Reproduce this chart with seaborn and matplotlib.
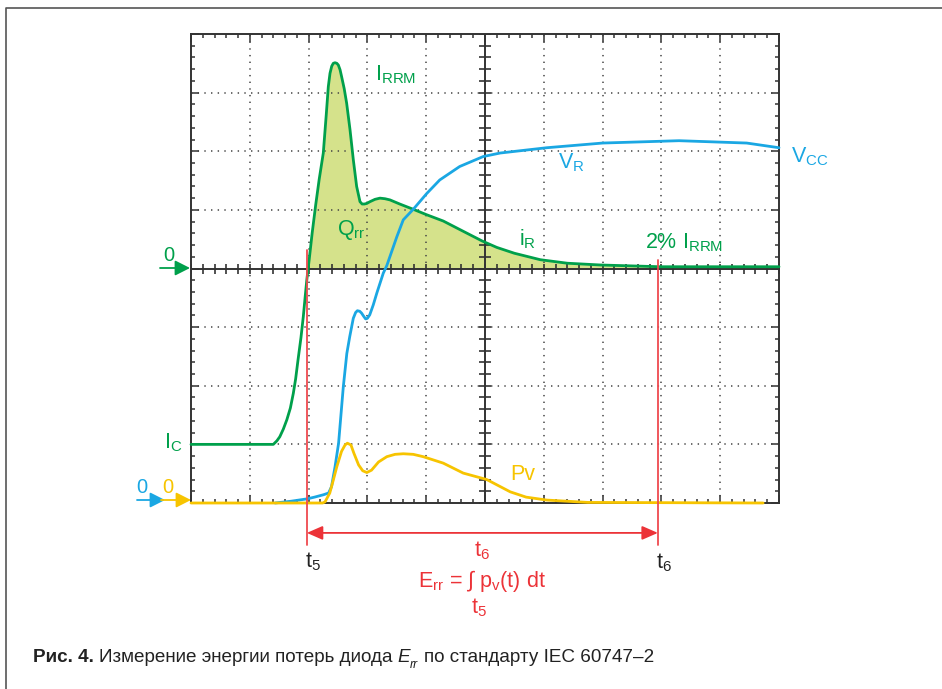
import numpy as np
import pandas as pd
import matplotlib
matplotlib.use("Agg")
import matplotlib.pyplot as plt
from matplotlib.lines import Line2D
from matplotlib.patches import FancyArrowPatch
from matplotlib import font_manager as fm
import seaborn as sns

# ---------------- data (oscilloscope divisions) ----------------
green_x = [0.0, 1.40, 1.46, 1.51, 1.57, 1.63, 1.69, 1.74, 1.78, 1.82, 1.87, 1.91, 1.94,
           1.97, 2.01, 2.06, 2.12, 2.18, 2.25, 2.30, 2.335, 2.364, 2.393, 2.42, 2.449,
           2.48, 2.506, 2.535, 2.562, 2.605, 2.647, 2.704, 2.761, 2.817, 2.874, 2.91,
           2.948, 2.99, 3.044, 3.13, 3.214, 3.30, 3.384, 3.55, 3.78, 4.00, 4.29, 4.60,
           4.95, 5.20, 5.50, 5.94, 6.40, 6.96, 7.98, 10.0]
green_y = [1.0, 1.0, 1.06, 1.13, 1.26, 1.42, 1.62, 1.87, 2.12, 2.44, 2.82, 3.18, 3.50,
           3.81, 4.15, 4.60, 5.08, 5.52, 5.97, 6.62, 7.10, 7.33, 7.45, 7.50, 7.51,
           7.50, 7.47, 7.39, 7.27, 7.07, 6.82, 6.37, 5.85, 5.40, 5.14, 5.10,
           5.10, 5.11, 5.14, 5.18, 5.20, 5.19, 5.17, 5.10, 5.01, 4.92, 4.81, 4.65,
           4.47, 4.36, 4.26, 4.15, 4.09, 4.06, 4.03, 4.03]

blue_x = [1.43, 1.70, 1.97, 2.10, 2.25, 2.34, 2.39, 2.45, 2.51, 2.55, 2.59, 2.65, 2.70,
          2.76, 2.80, 2.83, 2.87, 2.90, 2.94, 2.97, 3.00, 3.04, 3.10, 3.16, 3.27, 3.33,
          3.50, 3.61, 3.78, 4.01, 4.23, 4.57, 4.97, 5.26, 6.05, 7.00, 8.30, 9.45, 10.0]
blue_y = [0.0, 0.03, 0.07, 0.10, 0.14, 0.17, 0.28, 0.62, 1.02, 1.50, 1.98, 2.55, 2.84,
          3.15, 3.25, 3.28, 3.27, 3.24, 3.18, 3.14, 3.15, 3.21, 3.38, 3.58, 3.92, 4.05,
          4.54, 4.83, 5.01, 5.28, 5.51, 5.74, 5.91, 5.97, 6.06, 6.14, 6.18, 6.14, 6.06]

yellow_x = [0.0, 2.24, 2.28, 2.36, 2.42, 2.48, 2.56, 2.62, 2.66, 2.72, 2.77, 2.85, 2.92,
            2.99, 3.07, 3.19, 3.33, 3.47, 3.61, 3.78, 3.95, 4.29, 4.63, 5.03, 5.43, 5.70,
            6.05, 6.75, 9.73]
yellow_y = [0.0, 0.0, 0.02, 0.17, 0.39, 0.62, 0.88, 0.99, 1.02, 0.99, 0.85, 0.65, 0.55,
            0.52, 0.56, 0.70, 0.79, 0.83, 0.84, 0.83, 0.79, 0.68, 0.51, 0.40, 0.19, 0.10,
            0.05, 0.01, 0.0]

t5 = 1.97
t6 = 7.94

# ---------------- style ----------------
sns.set_theme(style="white")
plt.rcParams["font.family"] = ["Liberation Sans", "DejaVu Sans"]
plt.rcParams["mathtext.fontset"] = "custom"
plt.rcParams["mathtext.rm"] = "Liberation Sans"
plt.rcParams["mathtext.it"] = "Liberation Sans:italic"
plt.rcParams["mathtext.bf"] = "Liberation Sans:bold"
plt.rcParams["lines.scale_dashes"] = False

GREEN = "#00a04b"
BLUE = "#1aa7e3"
YEL = "#f7c400"
RED = "#ec3338"
REDLINE = "#ef4a4f"
FILL = "#d5e28b"
INK = "#333333"

W, H = 942, 689
fig = plt.figure(figsize=(W / 100, H / 100), dpi=100, facecolor="white")

# outer frame (only top and left visible)
fig.add_artist(Line2D([6 / W, 6 / W, 1.0], [0.0, 1 - 8 / H, 1 - 8 / H],
                      transform=fig.transFigure, color="#555555", lw=1.2))

L, T, R, B = 191, 34, 779, 503
ax = fig.add_axes([L / W, 1 - B / H, (R - L) / W, (B - T) / H])
ax.set_xlim(0, 10)
ax.set_ylim(0, 8)
ax.set_facecolor("white")

gx = np.array(green_x)
gy = np.array(green_y)
ax.fill_between(gx, 4, gy, where=gy >= 4, interpolate=True, color=FILL, lw=0, zorder=1)

# dotted grid
dot = (0, (1.0, 3.8))
for v in range(1, 10):
    if v != 5:
        ax.axvline(v, color="#444444", lw=1.1, ls=dot, zorder=2)
for h in range(1, 8):
    if h != 4:
        ax.axhline(h, color="#444444", lw=1.1, ls=dot, zorder=2)
ax.axvline(5, color=INK, lw=1.4, zorder=2)
ax.axhline(4, color=INK, lw=1.4, zorder=2)
mx = np.arange(0, 10.001, 0.2)
ax.plot(mx, np.full_like(mx, 4.0), ls="none", marker="|", ms=6.5, mew=1.2, color=INK, zorder=2)
my = np.arange(0, 8.001, 0.2)
ax.plot(np.full_like(my, 5.0), my, ls="none", marker="_", ms=8, mew=1.2, color=INK, zorder=2)

ax.set_xticks(range(0, 11))
ax.set_yticks(range(0, 9))
ax.set_xticks(np.arange(0, 10.001, 0.2), minor=True)
ax.set_yticks(np.arange(0, 8.001, 0.2), minor=True)
ax.tick_params(which="both", direction="in", top=True, right=True, bottom=True, left=True,
               labelbottom=False, labelleft=False, color=INK, width=1.1)
ax.tick_params(which="major", length=5.5)
ax.tick_params(which="minor", length=2.8)
for s in ax.spines.values():
    s.set_color(INK)
    s.set_linewidth(1.4)

# curves
sns.lineplot(x=green_x, y=green_y, ax=ax, color=GREEN, lw=2.0, estimator=None, sort=False,
             zorder=4, clip_on=False)
sns.lineplot(x=blue_x, y=blue_y, ax=ax, color=BLUE, lw=2.0, estimator=None, sort=False,
             zorder=4, clip_on=False)
sns.lineplot(x=yellow_x, y=yellow_y, ax=ax, color=YEL, lw=2.0, estimator=None, sort=False,
             zorder=5, clip_on=False)
for ln in ax.get_lines()[-3:]:
    ln.set_solid_joinstyle("round")

# t5 / t6 markers
ax.plot([t5, t5], [4.32, -0.72], color=REDLINE, lw=1.3, clip_on=False, zorder=6)
ax.plot([t6, t6], [4.15, -0.72], color=REDLINE, lw=1.3, clip_on=False, zorder=6)
arr = FancyArrowPatch((t5, -0.51), (t6, -0.51), arrowstyle="<|-|>,head_length=0.8,head_width=0.35",
                      mutation_scale=12, color=RED, lw=1.3, shrinkA=0, shrinkB=0, zorder=6)
ax.add_patch(arr)
arr.set_clip_on(False)


def fx(x):
    return x / W


def fy(y):
    return 1 - y / H


def txt(x, y, s, color, size=15.5, **kw):
    return fig.text(fx(x), fy(y), s, color=color, fontsize=size, ha="left", va="baseline", **kw)


def farrow(x0, x1, y, color):
    a = FancyArrowPatch((fx(x0), fy(y)), (fx(x1), fy(y)), transform=fig.transFigure,
                        arrowstyle="-|>,head_length=0.75,head_width=0.38", mutation_scale=12,
                        color=color, lw=1.3, shrinkA=0, shrinkB=0)
    fig.add_artist(a)


txt(375, 80, r"I$_{\mathrm{RRM}}$", GREEN)
txt(337, 235, r"Q$_{\mathrm{rr}}$", GREEN)
txt(558, 168, r"V$_{\mathrm{R}}$", BLUE)
txt(791, 162, r"V$_{\mathrm{CC}}$", BLUE)
txt(519, 245, r"i$_{\mathrm{R}}$", GREEN)
txt(645, 248, r"2% I$_{\mathrm{RRM}}$", GREEN)
txt(163, 261, "0", GREEN, 14.5)
txt(164, 448, r"I$_{\mathrm{C}}$", GREEN)
txt(136, 493, "0", BLUE, 14.5)
txt(162, 493, "0", YEL, 14.5)
txt(510, 480, "Pv", YEL)
txt(305, 567, r"t$_{\mathrm{5}}$", "#222222")
txt(656, 568, r"t$_{\mathrm{6}}$", "#222222")
txt(474, 556, r"t$_{\mathrm{6}}$", RED)
txt(418, 587, r"E$_{\mathrm{rr}}$ = ∫ p$_{\mathrm{v}}$(t) dt", RED)
txt(471, 613, r"t$_{\mathrm{5}}$", RED)

farrow(160, 190, 268, GREEN)
farrow(137, 165, 500, BLUE)
farrow(161, 191, 500, YEL)

# caption
names = {f.name for f in fm.fontManager.ttflist}
cap_family = "Liberation Sans Narrow" if "Liberation Sans Narrow" in names else "Liberation Sans"
renderer = fig.canvas.get_renderer()


def caption(size, x0=33, y0=662):
    arts = []
    x = x0
    pt2px = 100 / 72
    sp = 0.27 * size * pt2px
    pieces = [
        ("Рис. 4.", dict(weight="bold"), 0, 1.0),
        (None, None, 0, 1.0),
        ("Измерение энергии потерь диода", {}, 0, 1.0),
        (None, None, 0, 1.0),
        ("E", dict(style="italic"), 0, 1.0),
        ("rr", dict(style="italic"), 0.3, 0.65),
        (None, None, 0, 1.0),
        ("по стандарту IEC 60747–2", {}, 0, 1.0),
    ]
    for s, kw, drop, scl in pieces:
        if s is None:
            x += sp
            continue
        t = fig.text(fx(x), fy(y0 + drop * size * pt2px), s, fontsize=size * scl,
                     family=[cap_family, "DejaVu Sans"], color="#222222",
                     ha="left", va="baseline", **kw)
        arts.append(t)
        x += t.get_window_extent(renderer).width
    return arts, x - x0


arts, width = caption(12)
for a in arts:
    a.remove()
arts, width = caption(12 * 624 / width)

fig.savefig("out.png", dpi=100, facecolor="white")
